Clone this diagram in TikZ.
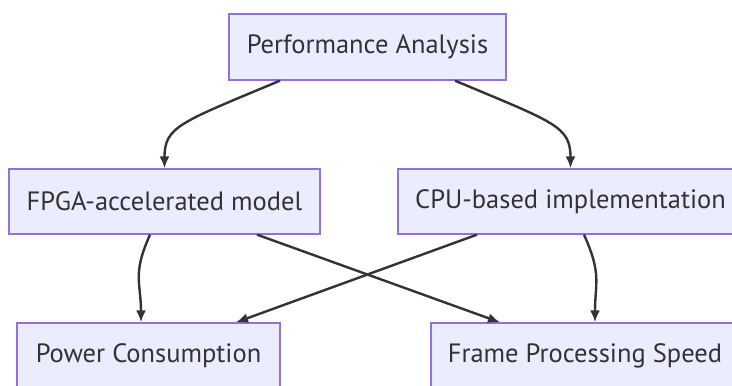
\documentclass[tikz,border=0pt]{standalone}
\usepackage{fontspec}
\setmainfont{PT Sans}
\usetikzlibrary{arrows.meta}
\definecolor{boxfill}{HTML}{ECECFF}
\definecolor{boxline}{HTML}{9370DB}
\definecolor{ink}{HTML}{333333}
\tikzset{
	box/.style={draw=boxline, fill=boxfill, line width=1.3pt, text=ink, font=\fontsize{26.5}{31}\selectfont, inner sep=0pt},
	flow/.style={draw=ink, line width=2.4pt, -{Latex[length=12pt,width=10pt]}}
}
\begin{document}
\begin{tikzpicture}[x=1pt,y=-1pt]
	\useasboundingbox (0,0) rectangle (732,386);
	% Boxes
	\node[box, minimum width=277pt, minimum height=66pt] (perf) at (367.5,47) {Performance Analysis};
	\node[box, minimum width=311pt, minimum height=65pt] (fpga) at (164.5,201.5) {FPGA-accelerated model};
	\node[box, minimum width=345pt, minimum height=65pt] (cpu) at (570.5,201.5) {CPU-based implementation};
	\node[box, minimum width=263pt, minimum height=65pt] (power) at (148.5,355.5) {Power Consumption};
	\node[box, minimum width=308pt, minimum height=65pt] (frame) at (585,355.5) {Frame Processing Speed};
	% Arrows
	\draw[flow] ([xshift=-87.5pt]perf.south) .. controls +(-100,42) and +(0,-42) .. (fpga.north);
	\draw[flow] ([xshift=87.5pt]perf.south) .. controls +(100,42) and +(0,-42) .. (cpu.north);
	\draw[flow] ([xshift=-14.5pt]fpga.south) .. controls +(-18,40) and +(0,-40) .. ([xshift=-7.5pt]power.north);
	\draw[flow] ([xshift=92.5pt]fpga.south) -- ([xshift=-85pt]frame.north);
	\draw[flow] ([xshift=-93.5pt]cpu.south) -- ([xshift=87.5pt]power.north);
	\draw[flow] ([xshift=13.5pt]cpu.south) .. controls +(18,40) and +(0,-40) .. ([xshift=10pt]frame.north);
\end{tikzpicture}
\end{document}
